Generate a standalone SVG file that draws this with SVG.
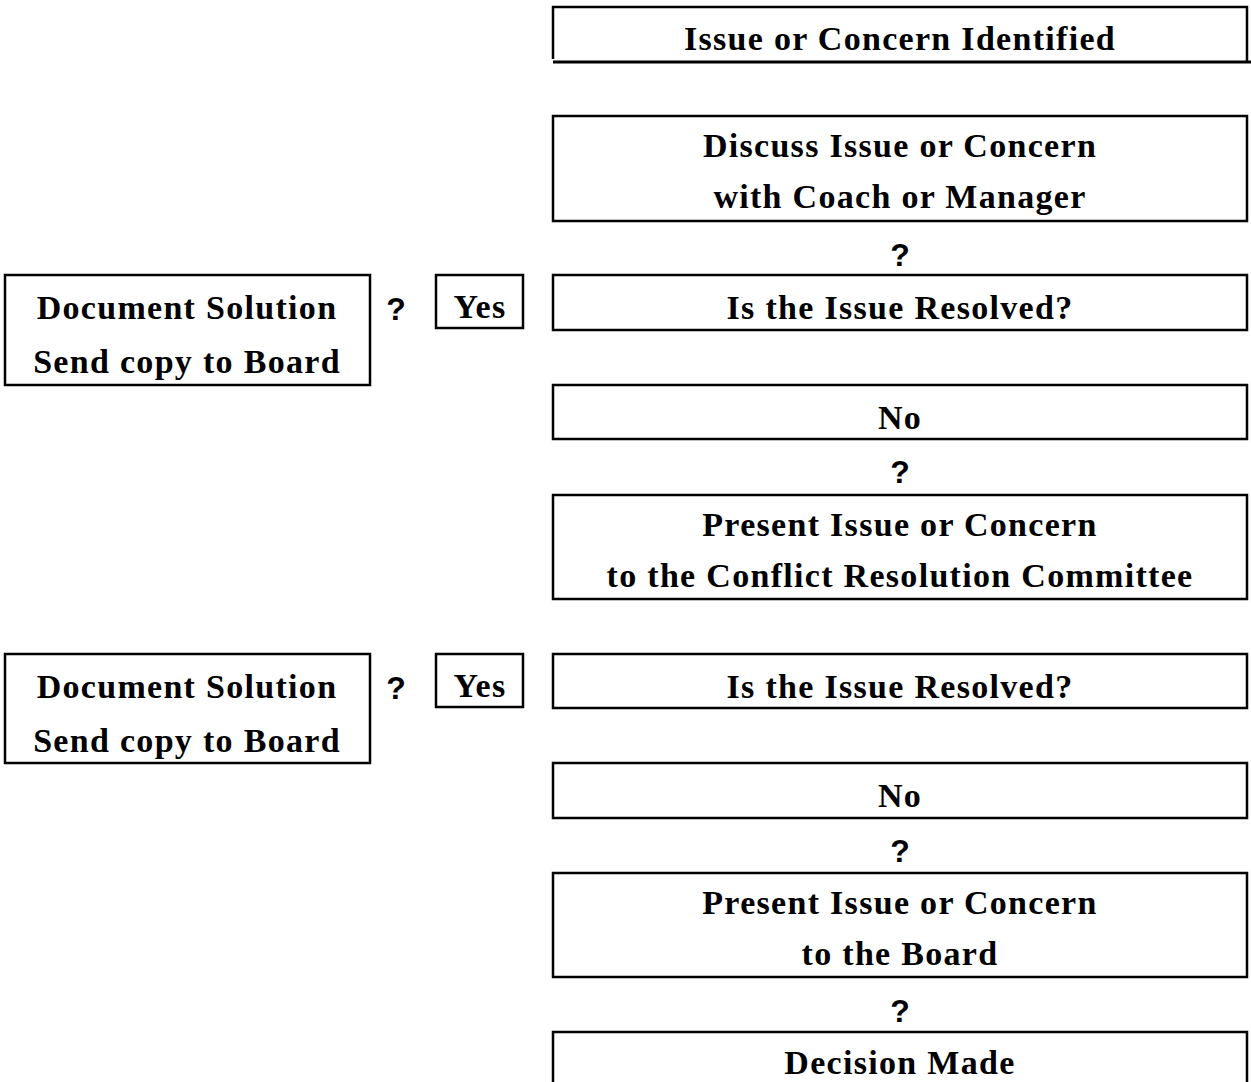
<svg xmlns="http://www.w3.org/2000/svg" width="1251" height="1082" viewBox="0 0 1251 1082">
<style>
.box{fill:#fff;stroke:#000;stroke-width:2.5}
.edge{fill:none;stroke:#000;stroke-width:2.5}
.t{font-family:"Liberation Serif","Times New Roman",serif;font-weight:bold;font-size:34px;letter-spacing:1.3px;fill:#000;text-anchor:middle}
.q{font-family:"Liberation Sans",Arial,sans-serif;font-weight:bold;font-size:32px;fill:#000;text-anchor:middle}
</style>
<rect width="1251" height="1082" fill="#fff"/>
<g id="n1"><path class="edge" d="M553 59V7H1247V62"/><path class="edge" d="M553 62H1251" style="stroke-width:3"/><text class="t" x="900" y="50">Issue or Concern Identified</text></g>
<g id="n2"><rect class="box" x="553" y="116" width="694" height="105"/><text class="t" x="900" y="157">Discuss Issue or Concern</text><text class="t" x="900" y="208">with Coach or Manager</text></g>
<g id="n3"><rect class="box" x="553" y="275" width="694" height="55"/><text class="t" x="900" y="319">Is the Issue Resolved?</text></g>
<g id="n4"><rect class="box" x="553" y="385" width="694" height="54"/><text class="t" x="900" y="429">No</text></g>
<g id="n5"><rect class="box" x="553" y="495" width="694" height="104"/><text class="t" x="900" y="536">Present Issue or Concern</text><text class="t" x="900" y="587">to the Conflict Resolution Committee</text></g>
<g id="n6"><rect class="box" x="553" y="654" width="694" height="54"/><text class="t" x="900" y="698">Is the Issue Resolved?</text></g>
<g id="n7"><rect class="box" x="553" y="763" width="694" height="55"/><text class="t" x="900" y="807">No</text></g>
<g id="n8"><rect class="box" x="553" y="873" width="694" height="104"/><text class="t" x="900" y="914">Present Issue or Concern</text><text class="t" x="900" y="965">to the Board</text></g>
<g id="n9"><rect class="box" x="553" y="1032" width="694" height="100"/><text class="t" x="900" y="1074">Decision Made</text></g>
<g id="d1"><rect class="box" x="5" y="275" width="365" height="110"/><text class="t" x="187" y="319">Document Solution</text><text class="t" x="187" y="373">Send copy to Board</text></g>
<g id="y1"><rect class="box" x="436" y="275" width="87" height="53"/><text class="t" x="480" y="318">Yes</text></g>
<g id="d2"><rect class="box" x="5" y="654" width="365" height="109"/><text class="t" x="187" y="698">Document Solution</text><text class="t" x="187" y="752">Send copy to Board</text></g>
<g id="y2"><rect class="box" x="436" y="654" width="87" height="53"/><text class="t" x="480" y="697">Yes</text></g>
<g id="connectors">
<text class="q" x="900" y="266">?</text>
<text class="q" x="900" y="483">?</text>
<text class="q" x="900" y="862">?</text>
<text class="q" x="900" y="1022">?</text>
<text class="q" x="396" y="320">?</text>
<text class="q" x="396" y="699">?</text>
</g>
</svg>
